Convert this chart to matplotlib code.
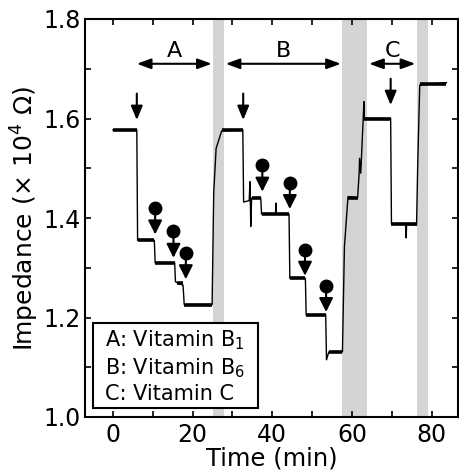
"""Impedance trace with vitamin additions."""

import matplotlib.pyplot as plt
from matplotlib.patches import Rectangle

plt.rcParams.update({
    "font.family": ["DejaVu Sans"],
    "mathtext.fontset": "custom",
    "mathtext.rm": "DejaVu Sans",
    "mathtext.it": "DejaVu Sans:italic",
    "font.size": 17,
})

# trace: time (min), impedance (x10^4 ohm)
time = [0, 6.0, 6.2, 10.4, 10.6, 15.5, 15.7, 16.6, 17.6, 17.9, 24.9,
        25.3, 25.9, 27.3, 32.6, 32.8, 34.2, 34.4, 34.6, 34.8, 37.1, 37.3,
        40.8, 40.9, 41.0, 44.2, 44.4, 48.3, 48.5, 53.4, 53.6, 54.2, 57.6,
        58.1, 59.0, 61.4, 61.8, 61.9, 62.2, 63.0, 63.1, 69.7, 69.9, 73.5,
        73.6, 73.7, 76.2, 76.5, 77.0, 83.7]
impedance = [1.577, 1.577, 1.355, 1.355, 1.31, 1.31, 1.272, 1.268, 1.265, 1.226, 1.226,
             1.45, 1.54, 1.575, 1.577, 1.432, 1.435, 1.473, 1.383, 1.44, 1.44, 1.408,
             1.408, 1.43, 1.408, 1.408, 1.279, 1.279, 1.205, 1.205, 1.115, 1.131, 1.131,
             1.342, 1.443, 1.44, 1.49, 1.52, 1.49, 1.634, 1.60, 1.60, 1.389, 1.387,
             1.36, 1.387, 1.386, 1.51, 1.667, 1.672]

# plateaus (start, end, level) drawn thicker to show the noise band
plateau_start = [0, 6.2, 10.6, 16.0, 17.9, 27.3, 34.8, 37.3, 44.4, 48.5, 54.2, 59.0, 63.1, 69.9, 77.0]
plateau_end = [6.0, 10.4, 15.5, 17.6, 24.9, 32.6, 37.1, 44.2, 48.3, 53.4, 57.6, 61.4, 69.7, 76.2, 83.7]
plateau_level = [1.577, 1.355, 1.31, 1.269, 1.226, 1.577, 1.44, 1.408, 1.279, 1.205, 1.131, 1.44,
                 1.60, 1.387, 1.670]

# rinse periods (grey bands)
band_start = [25.0, 57.5, 76.3]
band_end = [27.9, 63.8, 79.1]

# vitamin periods
period_labels = ["A", "B", "C"]
period_start = [6.0, 28.3, 64.3]
period_end = [24.8, 57.2, 75.9]

# plain injection arrows (time, top, tip)
inj_time = [6.0, 32.7, 69.7]
inj_top = [1.650, 1.650, 1.680]
inj_tip = [1.597, 1.597, 1.627]

# ball arrows (time, ball, tip)
ball_time = [10.6, 15.2, 18.3, 37.5, 44.4, 48.2, 53.5]
ball_level = [1.421, 1.374, 1.329, 1.506, 1.471, 1.336, 1.263]
ball_tip = [1.367, 1.320, 1.277, 1.453, 1.418, 1.284, 1.211]

legend_lines = ["A: Vitamin B$_1$", "B: Vitamin B$_6$", "C: Vitamin C"]
legend_baselines = [1.141, 1.086, 1.034]


def main() -> None:
    fig = plt.figure(figsize=(4.59, 4.70), dpi=100)
    ax = fig.add_axes([85 / 459, 1 - 417 / 470, 373 / 459, 398 / 470])

    for s, e in zip(band_start, band_end):
        ax.axvspan(s, e, color="#d4d4d4", lw=0, zorder=0)

    ax.plot(time, impedance, color="k", lw=1.0, zorder=2)
    for s, e, v in zip(plateau_start, plateau_end, plateau_level):
        ax.plot([s, e], [v, v], color="k", lw=2.6, solid_capstyle="butt", zorder=2)

    y_arrow = 1.71
    for lab, s, e in zip(period_labels, period_start, period_end):
        ax.annotate("", xy=(e, y_arrow), xytext=(s, y_arrow),
                    arrowprops=dict(arrowstyle="<|-|>,head_length=0.6,head_width=0.22",
                                    mutation_scale=14, lw=1.5, color="k",
                                    shrinkA=0, shrinkB=0))
        ax.text((s + e) / 2, 1.724, lab, ha="center", va="baseline", fontsize=16)

    for t, top, tip in zip(inj_time, inj_top, inj_tip):
        ax.annotate("", xy=(t, tip), xytext=(t, top),
                    arrowprops=dict(arrowstyle="-|>,head_length=0.6,head_width=0.25",
                                    mutation_scale=14, lw=1.5, color="k",
                                    shrinkA=0, shrinkB=0))

    for t, b, tip in zip(ball_time, ball_level, ball_tip):
        ax.annotate("", xy=(t, tip), xytext=(t, b),
                    arrowprops=dict(arrowstyle="-|>,head_length=0.6,head_width=0.3",
                                    mutation_scale=14, lw=1.5, color="k",
                                    shrinkA=0, shrinkB=0))
        ax.plot(t, b, "o", color="k", ms=9)

    ax.add_patch(Rectangle((-5.0, 1.0175), 41.3, 0.172, fc="white", ec="k",
                           lw=1.5, zorder=3))
    for line, yb in zip(legend_lines, legend_baselines):
        ax.text(-2.1, yb, line, fontsize=15, ha="left", va="baseline", zorder=4)

    ax.set_xlim(-7, 86.6)
    ax.set_ylim(1.0, 1.8)
    ax.set_xticks([0, 20, 40, 60, 80])
    ax.set_xticks(range(0, 90, 10), minor=True)
    ax.set_yticks([1.0, 1.2, 1.4, 1.6, 1.8])
    ax.set_yticks([1.1, 1.3, 1.5, 1.7], minor=True)
    ax.tick_params(which="both", direction="in", top=True, right=True,
                   length=4, width=1.2, labelsize=17)
    ax.tick_params(axis="x", pad=4)
    ax.tick_params(axis="y", pad=3)
    for sp in ax.spines.values():
        sp.set_linewidth(1.5)

    ax.set_xlabel("Time (min)", fontsize=17.5, labelpad=0)
    ax.set_ylabel("Impedance (× 10$^4$ Ω)", fontsize=18, labelpad=2)

    fig.savefig("out.png", dpi=100)


if __name__ == "__main__":
    main()
